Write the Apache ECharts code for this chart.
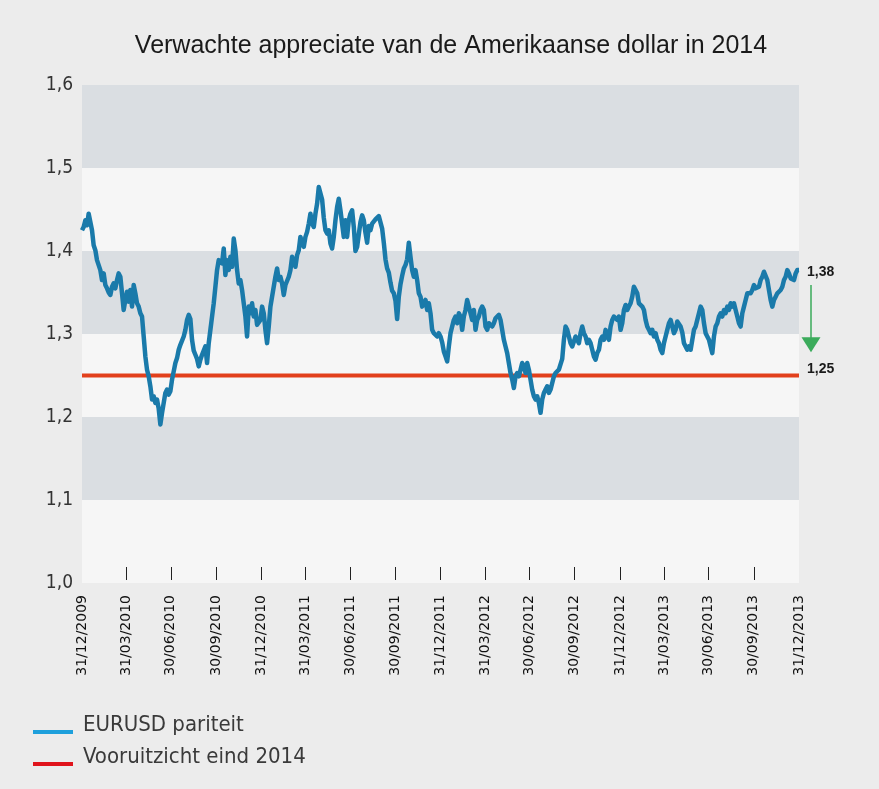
<!DOCTYPE html>
<html><head><meta charset="utf-8">
<script src="https://cdn.jsdelivr.net/npm/echarts@6/dist/echarts.min.js"></script>
<style>html,body{margin:0;padding:0;background:#ececec}#c{width:879px;height:789px}</style>
</head><body><div id="c"></div>
<script>
const titleText = 'Verwachte appreciate van de Amerikaanse dollar in 2014';
const seriesNames = ['EURUSD pariteit', 'Vooruitzicht eind 2014'];
const startDate = '2009-12-31';
const endDate = '2013-12-31';
const quarterDates = ['2009-12-31','2010-03-31','2010-06-30','2010-09-30','2010-12-31','2011-03-31','2011-06-30','2011-09-30','2011-12-31','2012-03-31','2012-06-30','2012-09-30','2012-12-31','2013-03-31','2013-06-30','2013-09-30','2013-12-31'];
const yMin = 1.0, yMax = 1.6, yStep = 0.1;
const forecastValue = 1.25;
const arrowValues = [1.359, 1.278];
// EUR/USD, evenly spaced in time from startDate to endDate
const eurusd = [
1.425,1.429,1.437,1.431,1.445,1.447,1.425,1.407,1.401,1.389,
1.391,1.377,1.365,1.373,1.359,1.355,1.350,1.347,1.357,1.361,
1.355,1.365,1.373,1.369,1.349,1.329,1.341,1.351,1.339,1.353,
1.333,1.359,1.349,1.337,1.333,1.325,1.321,1.297,1.273,1.257,
1.249,1.237,1.221,1.225,1.217,1.221,1.210,1.191,1.205,1.217,
1.229,1.233,1.227,1.231,1.245,1.255,1.265,1.271,1.281,1.287,
1.285,1.297,1.305,1.317,1.323,1.318,1.293,1.280,1.275,1.270,
1.261,
1.269,1.275,1.273,1.285,1.265,1.289,1.305,1.321,1.337,1.357,
1.377,1.389,1.391,1.385,1.403,1.371,1.389,1.377,1.393,1.381,
1.415,1.401,1.377,1.361,1.365,1.353,1.337,1.321,1.297,1.333,
1.325,1.337,1.321,1.329,1.311,1.309,1.317,1.333,1.325,1.305,
1.289,1.309,1.333,1.345,1.357,1.369,1.379,1.365,1.369,1.361,
1.347,1.359,1.361,1.369,1.377,1.393,1.387,1.381,1.395,1.401,
1.417,1.409,1.405,1.417,1.423,1.433,1.445,1.433,1.429,1.445,
1.457,1.477,
1.477,1.462,1.440,1.425,1.421,1.425,1.409,1.403,1.417,1.437,
1.453,1.463,1.449,1.433,1.417,1.437,1.417,1.437,1.445,1.449,
1.429,1.400,1.405,1.420,1.435,1.443,1.437,1.422,1.410,1.430,
1.425,1.433,1.433,1.438,1.439,1.442,1.440,1.427,1.410,1.390,
1.379,1.374,1.362,1.352,1.349,1.340,1.318,1.345,1.360,1.370,
1.379,1.383,1.390,1.410,1.393,1.377,1.369,1.377,1.365,1.349,
1.345,1.333,1.337,1.341,1.329,1.337,1.325,1.305,1.301,1.301,
1.297,1.301,
1.297,1.290,1.279,1.273,1.267,1.285,1.301,1.309,1.317,1.321,
1.313,1.325,1.321,1.305,1.321,1.329,1.341,1.343,1.325,1.317,
1.329,1.305,1.317,1.321,1.329,1.333,1.329,1.309,1.305,1.313,
1.315,1.309,1.313,1.319,1.321,1.323,1.317,1.305,1.293,1.285,
1.277,1.265,1.253,1.245,1.235,1.249,1.253,1.249,1.257,1.265,
1.261,1.253,1.265,1.257,1.245,1.233,1.225,1.221,1.225,1.217,
1.205,1.221,1.229,1.233,1.237,1.229,1.233,1.241,1.249,1.253,
1.255,1.257,
1.258,1.270,1.293,1.309,1.305,1.297,1.289,1.285,1.285,1.297,
1.293,1.289,1.301,1.309,1.301,1.297,1.289,1.293,1.289,1.281,
1.273,1.269,1.277,1.281,1.293,1.297,1.293,1.305,1.297,1.293,
1.309,1.317,1.321,1.319,1.317,1.321,1.305,1.313,1.329,1.335,
1.329,1.333,1.337,1.345,1.357,1.359,1.349,1.337,1.339,1.333,
1.329,1.317,1.309,1.305,1.301,1.305,1.297,1.301,1.293,1.289,
1.281,1.277,1.289,1.297,1.305,1.313,1.317,1.309,1.301,1.305,
1.315,1.313,
1.309,1.302,1.289,1.285,1.281,1.285,1.281,1.293,1.305,1.309,
1.317,1.325,1.333,1.329,1.313,1.301,1.297,1.293,1.285,1.277,
1.297,1.309,1.313,1.321,1.325,1.321,1.329,1.325,1.333,1.329,
1.337,1.333,1.337,1.329,1.321,1.313,1.309,1.325,1.333,1.341,
1.349,1.347,1.349,1.353,1.359,1.355,1.353,1.357,1.365,1.369,
1.375,1.373,1.365,1.353,1.341,1.333,1.341,1.345,1.349,1.347,
1.353,1.357,1.365,1.369,1.377,1.373,1.367,1.369,1.365,1.373,
1.377,1.377
];

function parseDate(s) { const p = s.split('-').map(Number); return new Date(p[0], p[1]-1, p[2]).getTime(); }
function fmtDate(t) { const d = new Date(t); const z = n => (n < 10 ? '0' : '') + n; return z(d.getDate()) + '/' + z(d.getMonth()+1) + '/' + d.getFullYear(); }
const comma = (v, n) => v.toFixed(n).replace('.', ',');

const t0 = parseDate(startDate), t1 = parseDate(endDate);
const quarterTs = quarterDates.map(parseDate);
const step = (t1 - t0) / (eurusd.length - 1);
const lineData = eurusd.map((v, i) => [t0 + i * step, v]);
const forecastData = [[t0, forecastValue], [t1, forecastValue]];

const narrow = "'Liberation Sans Narrow', 'DejaVu Sans Condensed', sans-serif";
const chart = echarts.init(document.getElementById('c'), null, {renderer: 'canvas'});
chart.setOption({
  animation: false,
  backgroundColor: '#ececec',
  title: {
    text: titleText, top: 29, left: 446, textAlign: 'center',
    textStyle: {fontFamily: "'Liberation Sans', Arial, sans-serif", fontSize: 25, fontWeight: 'normal', color: '#1a1a1a'}
  },
  grid: {left: 82, right: 80, top: 85, bottom: 206, containLabel: false},
  legend: {
    left: 33, top: 713, orient: 'vertical', padding: 0, itemWidth: 40, itemHeight: 18, itemGap: 8,
    icon: 'path://M0,0 M0,14 L40,14 L40,18 L0,18 Z',
    textStyle: {fontFamily: narrow, fontSize: 22, lineHeight: 24, color: '#3a3a3a', padding: [0, 0, 0, 5]},
    data: [
      {name: seriesNames[0], itemStyle: {color: '#1ea0dc'}},
      {name: seriesNames[1], itemStyle: {color: '#e0141c'}}
    ]
  },
  xAxis: {
    type: 'value', min: t0, max: t1, offset: -3,
    axisLine: {show: false},
    splitLine: {show: false},
    axisTick: {show: true, inside: true, length: 13, lineStyle: {color: '#222', width: 1}, customValues: quarterTs.slice(1, -1)},
    axisLabel: {
      customValues: quarterTs, rotate: 90, margin: 15,
      formatter: v => fmtDate(v),
      fontFamily: "'DejaVu Sans', sans-serif", fontSize: 14, color: '#111',
      showMinLabel: true, showMaxLabel: true, hideOverlap: false
    }
  },
  yAxis: {
    type: 'value', min: yMin, max: yMax, interval: yStep,
    axisLine: {show: false}, axisTick: {show: false},
    splitLine: {show: false},
    splitArea: {show: true, areaStyle: {color: ['#f6f6f6', '#dadee2']}},
    axisLabel: {formatter: v => comma(v, 1), margin: 9, fontFamily: narrow, fontSize: 19, color: '#333'}
  },
  series: [
    {
      name: seriesNames[0], type: 'line', data: lineData, showSymbol: false, symbol: 'none',
      lineStyle: {color: '#1a7aaa', width: 4.5, join: 'round'}, itemStyle: {color: '#1a7aaa'},
      z: 3,
      endLabel: {show: true, distance: 8, offset: [0, 2], formatter: p => comma(p.value[1], 2),
        fontFamily: "'Liberation Sans', Arial, sans-serif", fontSize: 14, fontWeight: 'bold', color: '#1a1a1a'}
    },
    {
      name: seriesNames[1], type: 'line', data: forecastData, showSymbol: false, symbol: 'none',
      lineStyle: {color: '#e2401c', width: 4}, itemStyle: {color: '#e2401c'},
      z: 2,
      endLabel: {show: true, distance: 8, offset: [0, -6], formatter: p => comma(p.value[1], 2),
        fontFamily: "'Liberation Sans', Arial, sans-serif", fontSize: 14, fontWeight: 'bold', color: '#1a1a1a'}
    }
  ]
});

const pTop = chart.convertToPixel({gridIndex: 0}, [t1, arrowValues[0]]);
const pTip = chart.convertToPixel({gridIndex: 0}, [t1, arrowValues[1]]);
const ax = pTop[0] + 12, headH = 15, headW = 19;
chart.setOption({
  graphic: [
    {type: 'line', shape: {x1: ax, y1: pTop[1], x2: ax, y2: pTip[1] - headH + 1}, style: {stroke: '#3bab5b', lineWidth: 1.5}},
    {type: 'polygon', shape: {points: [[ax - headW / 2, pTip[1] - headH], [ax + headW / 2, pTip[1] - headH], [ax, pTip[1]]]}, style: {fill: '#3bab5b'}}
  ]
});
</script></body></html>
